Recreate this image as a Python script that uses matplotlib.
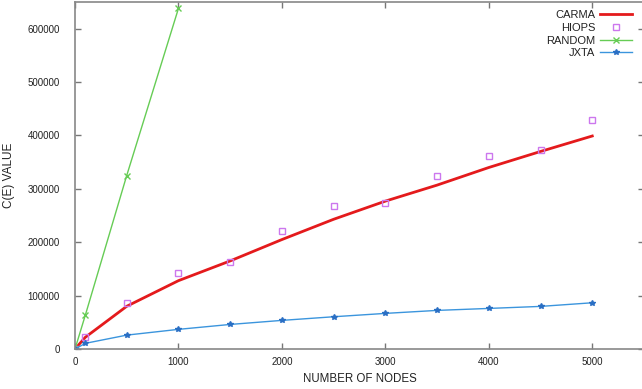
import matplotlib
matplotlib.use("Agg")
import matplotlib.pyplot as plt

plt.rcParams['font.family'] = ['Liberation Sans', 'DejaVu Sans']

# 节点数
nodes = [0, 100, 500, 1000, 1500, 2000, 2500, 3000, 3500, 4000, 4500, 5000]
random_nodes = [0, 100, 500, 1000]

carma = [0, 22000, 80000, 128000, 165000, 205000, 243000, 277000, 307000, 340000, 370000, 399000]
hiops = [0, 22000, 86500, 141500, 163000, 220500, 267000, 273500, 324000, 360700, 373000, 429000]
random_ = [0, 63500, 325000, 638000]
jxta = [0, 10600, 26000, 36800, 46000, 53600, 60400, 66700, 72300, 76000, 79800, 86600]

fig = plt.figure(figsize=(6.42, 3.89), dpi=100)
ax = fig.add_axes([75 / 642, 40 / 389, 569 / 642, 347 / 389])

ax.plot(nodes, carma, color='#e41a1c', lw=2, label='CARMA')
ax.plot(nodes, hiops, ls='none', marker='s', ms=5, mfc='none', mec='#cc77ee', mew=1, label='HIOPS')
ax.plot(random_nodes, random_, color='#66cc55', lw=1, marker='x', ms=4, mew=1, label='RANDOM')
ax.plot(nodes, jxta, color='#3b95dd', lw=1, marker='*', ms=4, mec='#2a6fc4', mfc='#2a6fc4', label='JXTA')

ax.set_xlim(0, 5500)
ax.set_ylim(0, 650000)
ax.set_xticks(range(0, 5001, 1000))
ax.set_yticks(range(0, 600001, 100000))

ax.tick_params(direction='in', top=True, right=True, length=4, width=1,
               color='#777777', labelsize=7, labelcolor='#222222')
ax.tick_params(axis='x', pad=6)
ax.tick_params(axis='y', pad=11)
for s in ax.spines.values():
    s.set_color('#888888')
    s.set_linewidth(1.2)

ax.set_xlabel('NUMBER OF NODES', fontsize=8.3, color='#222222', labelpad=4)
ax.set_ylabel('C(E) VALUE', fontsize=8.5, color='#222222', labelpad=9)

leg = ax.legend(loc='upper right', bbox_to_anchor=(632 / 642, 379 / 389),
                bbox_transform=fig.transFigure, frameon=False, fontsize=8,
                markerfirst=False, handlelength=2.9, handletextpad=0.4,
                labelspacing=0.25, borderaxespad=0, borderpad=0)
for t in leg.get_texts():
    t.set_color('#222222')

fig.savefig('out.png', dpi=100)
